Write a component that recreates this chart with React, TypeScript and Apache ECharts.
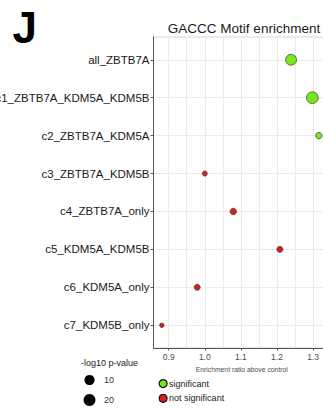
import React, { useEffect, useRef } from "react";
import * as echarts from "echarts";

const categories = [
  "all_ZBTB7A",
  "c1_ZBTB7A_KDM5A_KDM5B",
  "c2_ZBTB7A_KDM5A",
  "c3_ZBTB7A_KDM5B",
  "c4_ZBTB7A_only",
  "c5_KDM5A_KDM5B",
  "c6_KDM5A_only",
  "c7_KDM5B_only",
];
const enrichment = [1.239, 1.298, 1.316, 1.0, 1.079, 1.208, 0.979, 0.881];
const logP = [13.5, 19, 1.6, 0.5, 1.6, 1.2, 1.2, 0.2];
const significant = [true, true, true, false, false, false, false, false];
const xTickLabels = [0.9, 1.0, 1.1, 1.2, 1.3];
const xGridValues = [0.9, 0.95, 1.0, 1.05, 1.1, 1.15, 1.2, 1.25, 1.3, 1.35];
const sizeBreaks = [10, 20];

const FONT = "'Liberation Sans', Arial, Helvetica, sans-serif";
const GREEN = "#76e81c";
const RED = "#dd1c1c";

const sizeOf = (p: number) => 4 + 2.6 * Math.log(1 + p);

export default function App() {
  const ref = useRef<HTMLDivElement>(null);
  useEffect(() => {
    document.body.style.margin = "0";
    const chart = echarts.init(ref.current!, undefined, { renderer: "svg" });
    const yIdx = categories.map((_, i) => i);
    const sigData = yIdx
      .filter((i) => significant[i])
      .map((i) => [enrichment[i], i, logP[i]]);
    const nsData = yIdx
      .filter((i) => !significant[i])
      .map((i) => [enrichment[i], i, logP[i]]);

    const gridLeft = 153.5;
    const gridTop = 37;
    const gridBottomY = 348;
    const xMin = 0.8579;
    const xMax = 1.3468;
    const gridWidth = (xMax - xMin) * 361;

    const sizeLegend: any[] = [];
    sizeBreaks.forEach((b, k) => {
      const cy = 380 + k * 20;
      sizeLegend.push({
        type: "circle",
        shape: { cx: 89.5, cy, r: sizeOf(b) / 2 },
        style: { fill: "#000" },
      });
      sizeLegend.push({
        type: "text",
        x: 104,
        y: cy,
        style: {
          text: String(b),
          font: `9px ${FONT}`,
          fill: "#333",
          verticalAlign: "middle",
          align: "left",
        },
      });
    });

    chart.setOption({
      animation: false,
      backgroundColor: "#fff",
      textStyle: { fontFamily: FONT },
      grid: {
        left: gridLeft,
        top: gridTop,
        width: gridWidth,
        height: gridBottomY - gridTop,
        show: true,
        borderColor: "#d6d6d6",
        borderWidth: 1,
        containLabel: false,
        outerBoundsMode: "none",
      },
      xAxis: [
        {
          type: "value",
          min: xMin,
          max: xMax,
          position: "bottom",
          axisLine: { show: true, onZero: false, lineStyle: { color: "#555", width: 1 } },
          axisTick: {
            show: true,
            length: 2.5,
            customValues: xTickLabels,
            lineStyle: { color: "#555" },
          },
          axisLabel: {
            customValues: xTickLabels,
            fontSize: 8.5,
            color: "#4d4d4d",
            margin: 4,
            fontFamily: FONT,
            formatter: (v: number) => v.toFixed(1),
          },
          splitLine: { show: false },
          name: "Enrichment ratio above control",
          nameLocation: "middle",
          nameGap: 15.5,
          nameTextStyle: { fontSize: 6.8, color: "#4d4d4d", fontFamily: FONT },
        },
        {
          type: "value",
          min: xMin,
          max: xMax,
          position: "bottom",
          axisLine: { show: false, onZero: false },
          axisTick: { show: false, customValues: xGridValues },
          axisLabel: { show: false },
          splitLine: { show: true, lineStyle: { color: "#ebebeb", width: 1 } },
        },
      ],
      yAxis: {
        type: "value",
        min: -0.6,
        max: 7.6,
        inverse: true,
        position: "left",
        axisLine: { show: true, onZero: false, lineStyle: { color: "#555", width: 1 } },
        axisTick: {
          show: true,
          length: 3,
          customValues: yIdx,
          lineStyle: { color: "#555" },
        },
        axisLabel: {
          customValues: yIdx,
          fontSize: 11.5,
          color: "#1a1a1a",
          margin: 4,
          fontFamily: FONT,
          formatter: (v: number) => categories[Math.round(v)] ?? "",
        },
        splitLine: { show: true, lineStyle: { color: "#ebebeb", width: 1 } },
      },
      legend: {
        show: true,
        orient: "vertical",
        left: 158.5,
        top: 379,
        padding: 0,
        itemWidth: 8,
        itemHeight: 8,
        itemGap: 5.5,
        icon: "circle",
        textStyle: { fontSize: 9, color: "#1a1a1a", fontFamily: FONT, padding: [0, 0, 0, -3] },
        itemStyle: { borderColor: "#111", borderWidth: 1.2 },
        data: ["significant", "not significant"],
      },
      series: [
        {
          name: "significant",
          type: "scatter",
          xAxisIndex: 0,
          data: sigData,
          symbolSize: (v: number[]) => sizeOf(v[2]),
          itemStyle: { color: GREEN, borderColor: "#3a3a3a", borderWidth: 0.7, opacity: 1 },
        },
        {
          name: "not significant",
          type: "scatter",
          xAxisIndex: 0,
          data: nsData,
          symbolSize: (v: number[]) => sizeOf(v[2]),
          itemStyle: { color: RED, borderColor: "#3a3a3a", borderWidth: 0.7, opacity: 1 },
        },
      ],
      graphic: [
        {
          type: "text",
          x: 12.5,
          y: 27.5,
          style: {
            text: "J",
            font: `bold 44px ${FONT}`,
            fill: "#000",
            verticalAlign: "middle",
            align: "left",
          },
        },
        {
          type: "text",
          x: 244,
          y: 28.5,
          style: {
            text: "GACCC Motif enrichment",
            font: `13.5px ${FONT}`,
            fill: "#1a1a1a",
            verticalAlign: "middle",
            align: "center",
          },
        },
        {
          type: "text",
          x: 109.5,
          y: 363,
          style: {
            text: "-log10 p-value",
            font: `9px ${FONT}`,
            fill: "#1a1a1a",
            verticalAlign: "middle",
            align: "center",
          },
        },
        ...sizeLegend,
      ],
    });
    return () => chart.dispose();
  }, []);
  return (
    <div
      style={{ position: "absolute", left: 0, top: 0, width: 323, height: 409, overflow: "hidden" }}
    >
      <div ref={ref} style={{ width: 323, height: 409 }} />
    </div>
  );
}
